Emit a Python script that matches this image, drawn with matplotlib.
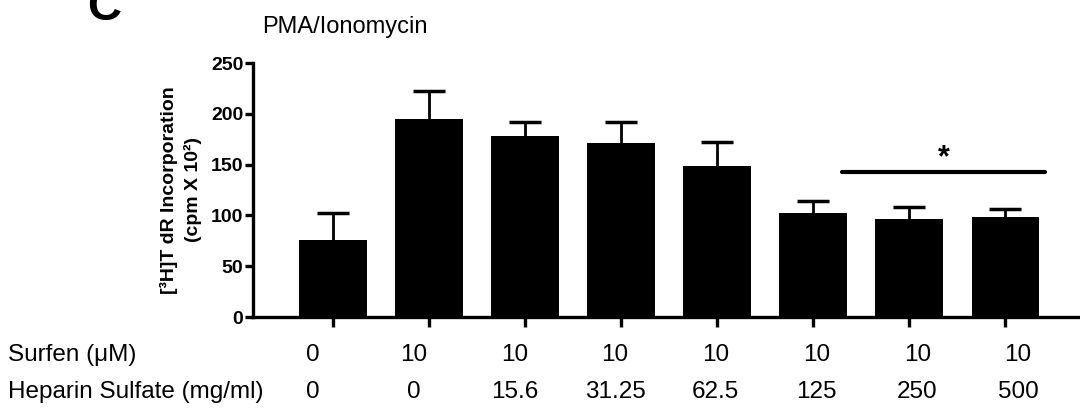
import numpy as np
import matplotlib
matplotlib.use('Agg')
import matplotlib.pyplot as plt

plt.rcParams['font.family'] = ['Liberation Sans', 'DejaVu Sans']

# proliferation after PMA/Ionomycin, mean and SEM per condition
surfen = ['0', '10', '10', '10', '10', '10', '10', '10']
heparin = ['0', '0', '15.6', '31.25', '62.5', '125', '250', '500']
medias = [76, 195, 178, 171, 149, 102, 96, 98]
erros = [26, 27, 14, 21, 23, 12, 12, 8]
sig_level = 143  # altura da barra de significancia
sig_grupos = (5.3, 7.42)

W, H = 1080, 411
fig = plt.figure(figsize=(W / 100, H / 100), dpi=100)
ax = fig.add_axes([253 / W, 94 / H, 1 - 253 / W, (317 - 63) / H])

x = np.arange(len(medias))
topos = np.array(medias) + np.array(erros)
# so a parte de cima do erro (haste + traco)
ax.vlines(x, medias, topos, color='black', lw=2, zorder=1)
ax.hlines(topos, x - 0.17, x + 0.17, color='black', lw=2.5, zorder=1)
ax.bar(x, medias, width=0.7, color='black', zorder=2)

ax.set_xlim(-0.833, 7.78)
ax.set_ylim(0, 250)
ax.set_yticks([0, 50, 100, 150, 200, 250])
ax.set_xticks(x)
ax.set_xticklabels([])
for lado in ['top', 'right']:
    ax.spines[lado].set_visible(False)
for lado in ['left', 'bottom']:
    ax.spines[lado].set_linewidth(2.4)
ax.tick_params(axis='y', width=2.4, length=6, labelsize=14, pad=1)
ax.tick_params(axis='x', width=2.4, length=7)
for t in ax.get_yticklabels():
    t.set_fontweight('bold')

ax.set_ylabel('[³H]T dR Incorporation\n(cpm X 10²)', fontsize=14,
              fontweight='bold', labelpad=6, linespacing=1.45)

# linha do asterisco
ax.plot(sig_grupos, [sig_level, sig_level], color='black', lw=3,
        solid_capstyle='round', clip_on=False)
ax.text(np.mean(sig_grupos), sig_level - 2, '*', ha='center', va='bottom',
        fontsize=22, fontweight='bold')

fig.text(87 / W, 1 - 20 / H, 'C', fontsize=34, fontweight='bold',
         ha='left', va='baseline')
fig.text(262 / W, 1 - 33 / H, 'PMA/Ionomycin', fontsize=17,
         ha='left', va='baseline')

# tabela de condicoes abaixo do eixo
col_x = np.linspace(313, 1018, len(surfen)) / W
fig.text(8 / W, 1 - 355 / H, 'Surfen (μM)', fontsize=17.5, va='center')
fig.text(8 / W, 1 - 392 / H, 'Heparin Sulfate (mg/ml)', fontsize=17.5, va='center')
for i in range(len(surfen)):
    fig.text(col_x[i], 1 - 355 / H, surfen[i], fontsize=17.5, ha='center', va='center')
    fig.text(col_x[i], 1 - 392 / H, heparin[i], fontsize=17.5, ha='center', va='center')

fig.savefig('out.png', dpi=100)
